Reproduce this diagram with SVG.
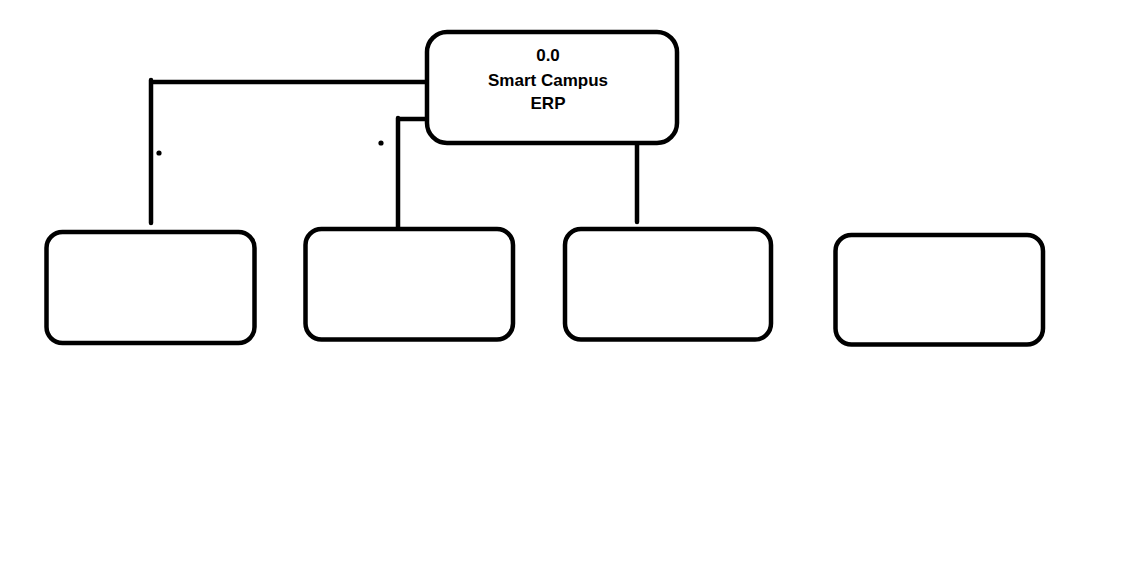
<svg xmlns="http://www.w3.org/2000/svg" width="1148" height="574" viewBox="0 0 1148 574">
<style>
.box{fill:#fff;stroke:#000;stroke-width:4.5}
.ln{fill:none;stroke:#000;stroke-width:4.5;stroke-linecap:round}
.t{font-family:"Liberation Sans",Arial,sans-serif;font-weight:bold;font-size:17px;fill:#000;text-anchor:middle}
</style>
<rect width="1148" height="574" fill="#fff"/>
<g id="connectors">
<path class="ln" d="M151,80 V223 M151,82 H428"/>
<path class="ln" d="M398,118 V228 M398,119 H428"/>
<path class="ln" d="M637,145 V222"/>
<circle cx="159" cy="153" r="2.6" fill="#000"/>
<circle cx="381" cy="143" r="2.6" fill="#000"/>
</g>
<g id="node-root">
<rect class="box" x="427" y="32" width="250" height="111" rx="20"/>
<text class="t" x="548" y="61">0.0</text>
<text class="t" x="548" y="86">Smart Campus</text>
<text class="t" x="548" y="109">ERP</text>
</g>
<g id="node-1"><rect class="box" x="46.5" y="232" width="208" height="111" rx="16"/></g>
<g id="node-2"><rect class="box" x="305.5" y="229" width="207.5" height="110.5" rx="16"/></g>
<g id="node-3"><rect class="box" x="565" y="229" width="206" height="110.5" rx="16"/></g>
<g id="node-4"><rect class="box" x="835.5" y="235" width="207.5" height="109.5" rx="16"/></g>
</svg>
